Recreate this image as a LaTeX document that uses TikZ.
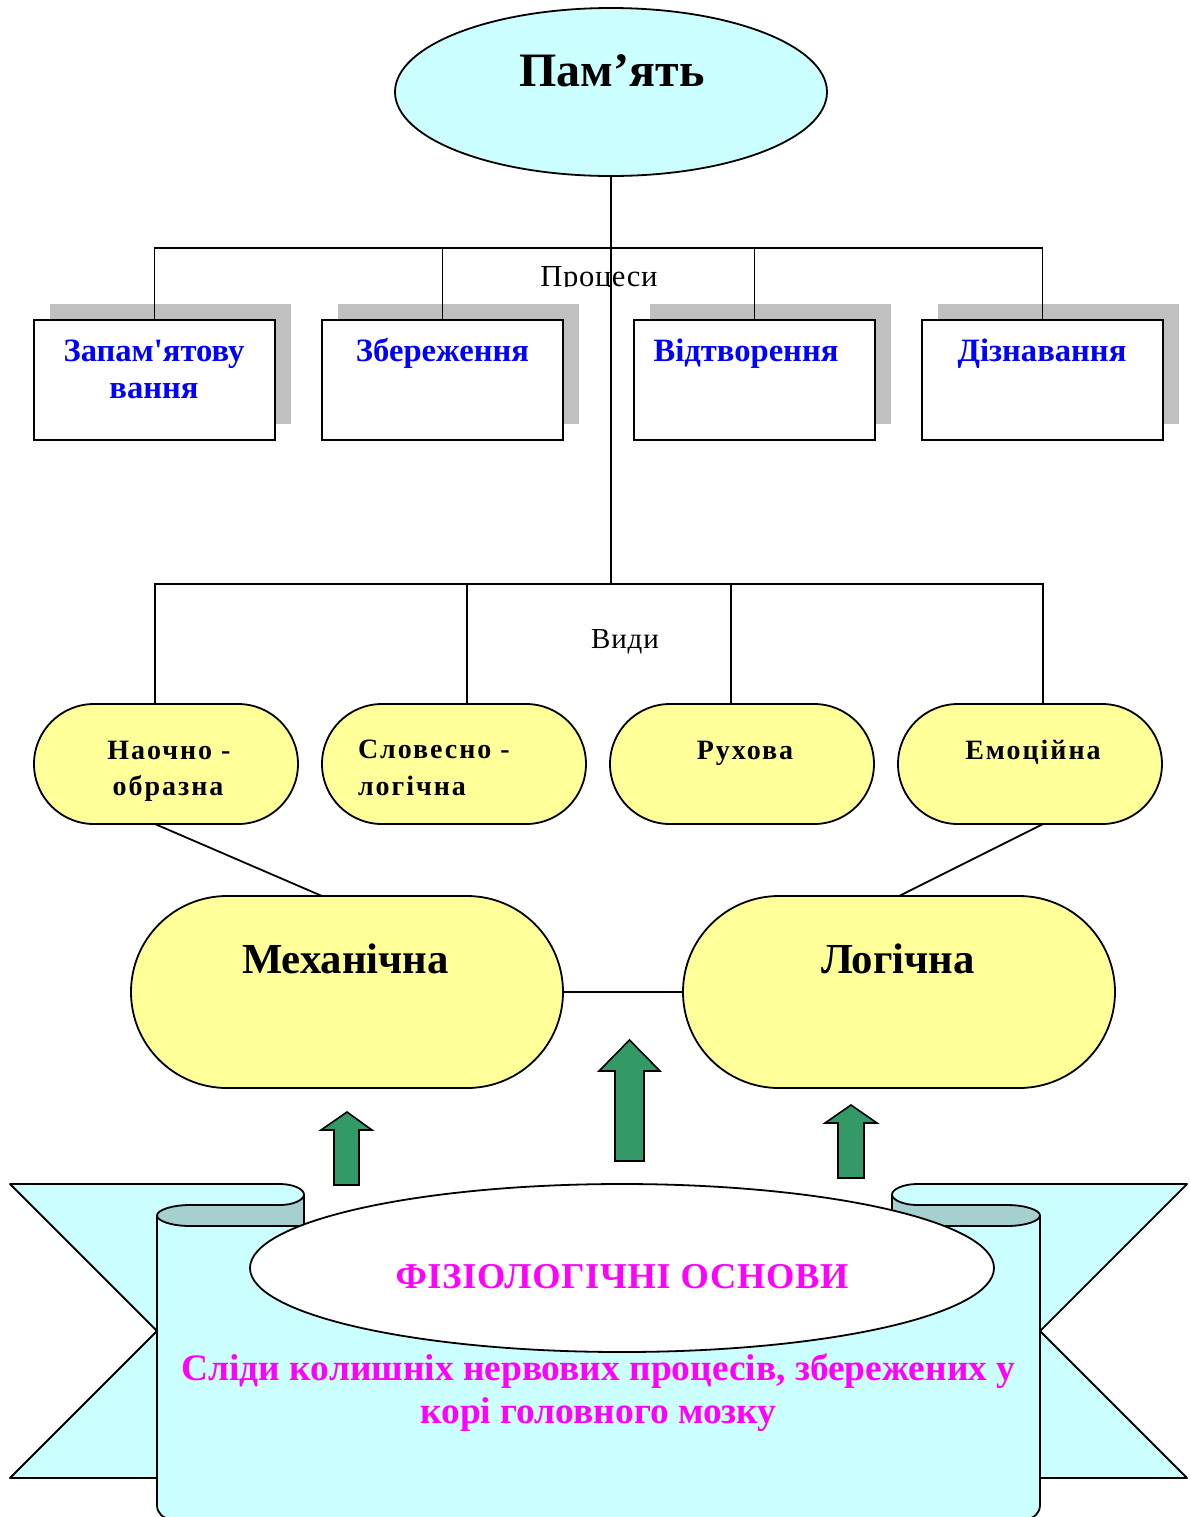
\documentclass[tikz,border=0pt]{standalone}
\usepackage{fontspec}
\setmainfont{Liberation Serif}[Ligatures=TeXOff]
\usetikzlibrary{shapes.geometric,shadows,calc}
\definecolor{lcyan}{HTML}{CCFFFF}
\definecolor{lyellow}{HTML}{FFFF99}
\definecolor{dgreen}{HTML}{339966}
\definecolor{shadowgray}{HTML}{C0C0C0}
\definecolor{foldcyan}{HTML}{A6CFCF}
\definecolor{magentaT}{HTML}{FF00FF}
\definecolor{blueT}{HTML}{0000FF}
\newcommand\fsz[1]{\fontsize{#1pt}{#1pt}\selectfont}
\begin{document}
\begin{tikzpicture}[x=0.5pt,y=-0.5pt,line width=0.9pt,
  every node/.style={inner sep=0pt,outer sep=0pt},
  procbox/.style={draw,fill=white,minimum width=120.5pt,minimum height=60pt,
    general shadow={fill=shadowgray,shadow xshift=8pt,shadow yshift=8pt}},
  kindbox/.style={draw,fill=lyellow,minimum width=132pt,minimum height=60pt,rounded corners=30pt},
  bigbox/.style={draw,fill=lyellow,minimum width=216pt,minimum height=96pt,rounded corners=48pt},
  proctxt/.style={anchor=base,font=\fsz{16.3}\bfseries,text=blueT},
  kindtxt/.style={anchor=base,font=\fsz{14}\bfseries\addfontfeatures{LetterSpace=7}},
  bigtxt/.style={anchor=base,font=\fsz{21.4}\bfseries},
  magtxt/.style={anchor=base,text=magentaT},
  garrow/.style={draw,fill=dgreen,line width=0.8pt,line join=miter},
  ribbon/.style={draw,fill=lcyan,line join=round},
  fold/.style={draw,fill=foldcyan,line join=round}]
\useasboundingbox (0,0) rectangle (1190,1517);
\clip (0,0) rectangle (1190,1517);

% top ellipse
\node[ellipse,draw,fill=lcyan,minimum width=216pt,minimum height=84pt] (mem) at (611,92) {};
\node[anchor=base,font=\fsz{24}\bfseries] (tmem) at (612,86.7) {Пам’ять};

% process boxes
\node[procbox] (b1) at (154.5,380) {};
\node[procbox] (b2) at (442.5,380) {};
\node[procbox] (b3) at (754.5,380) {};
\node[procbox] (b4) at (1042.5,380) {};
\node[proctxt] (tb1a) at (154,361) {Запам'ятову};
\node[proctxt] (tb1b) at (154,398) {вання};
\node[proctxt] (tb2) at (442.5,361) {Збереження};
\node[proctxt] (tb3) at (746,361) {Відтворення};
\node[proctxt] (tb4) at (1042,361) {Дізнавання};

\begin{scope}
\clip (480,250) rectangle (720,286);
\node[anchor=base,font=\fsz{15.3}\addfontfeatures{LetterSpace=2}] (tproc) at (599,286) {Процеси};
\end{scope}

% kinds
\node[kindbox] (y1) at (166,764) {};
\node[kindbox] (y2) at (454,764) {};
\node[kindbox] (y3) at (742,764) {};
\node[kindbox] (y4) at (1030,764) {};
\node[kindtxt] (ty1a) at (169,759.3) {Наочно -};
\node[kindtxt] (ty1b) at (168,795) {образна};
\node[kindtxt,anchor=base west] (ty2a) at (358,758.5) {Словесно -};
\node[kindtxt,anchor=base west] (ty2b) at (358,795) {логічна};
\node[kindtxt] (ty3) at (745,759) {Рухова};
\node[kindtxt] (ty4) at (1033,759) {Емоційна};
\node[anchor=base,font=\fsz{14.5}\addfontfeatures{LetterSpace=3}] (tvydy) at (625,648.3) {Види};

% big kinds
\node[bigbox] (mech) at (347,992) {};
\node[bigbox] (logc) at (899,992) {};
\node[bigtxt] (tmech) at (345.5,973.3) {Механічна};
\node[bigtxt] (tlog) at (898,973.3) {Логічна};

% tree connectors
\coordinate (pbar) at (611,248);
\coordinate (vj) at (611,584);
\coordinate (v1) at (155,584);
\coordinate (v2) at (467,584);
\coordinate (v3) at (731,584);
\coordinate (v4) at (1043,584);
\draw (mem.south) -- (vj);
\draw (b1.north) -- (b1.north |- pbar) -- (b4.north |- pbar) -- (b4.north);
\draw (b2.north) -- (b2.north |- pbar);
\draw (b3.north) -- (b3.north |- pbar);
\draw (v1 |- y1.north) -- (v1) -- (v4) -- (v4 |- y4.north);
\draw (v2) -- (v2 |- y2.north);
\draw (v3) -- (v3 |- y3.north);
\draw (v1 |- y1.south) -- ($(mech.north)+(-25,0)$);
\draw (v4 |- y4.south) -- (logc.north);
\draw (mech.east) -- (logc.west);

% green arrows
\draw[garrow] (334,1185) -- (334,1130) -- (321,1130) -- (347,1112) -- (372,1130) -- (359,1130) -- (359,1185) -- cycle;
\draw[garrow] (615,1161) -- (615,1071) -- (599,1071) -- (629.5,1040) -- (660,1071) -- (644,1071) -- (644,1161) -- cycle;
\draw[garrow] (838,1178) -- (838,1123) -- (825,1123) -- (851,1105) -- (877,1123) -- (864,1123) -- (864,1178) -- cycle;

% ribbon tails
\draw[ribbon] (10,1184) -- (280,1184) .. controls (293,1184) and (304,1189) .. (304,1194.5)
  -- (304,1226) -- (157,1226) -- (157,1478) -- (10,1478) -- (157,1331) -- cycle;
\draw[ribbon] (1187,1184) -- (917,1184) .. controls (904,1184) and (892,1189) .. (892,1194.5)
  -- (892,1226) -- (1040,1226) -- (1040,1478) -- (1187,1478) -- (1040,1331) -- cycle;
% central panel
\fill[lcyan] (157,1215.5) -- (157,1505) .. controls (157,1513) and (163,1519) .. (172,1519)
  -- (1025,1519) .. controls (1034,1519) and (1040,1513) .. (1040,1505) -- (1040,1215.5)
  -- (1007,1226) -- (190,1226) -- cycle;
\draw[line join=round] (157,1215.5) -- (157,1505) .. controls (157,1513) and (163,1519) .. (172,1519)
  -- (1025,1519) .. controls (1034,1519) and (1040,1513) .. (1040,1505) -- (1040,1215.5);
% folds
\draw[fold] (190,1205) -- (280,1205) .. controls (293,1205) and (304,1200) .. (304,1194.5)
  -- (304,1226) -- (190,1226) .. controls (172,1226) and (157,1221) .. (157,1215.5)
  .. controls (157,1210) and (172,1205) .. (190,1205) -- cycle;
\draw[fold] (1007,1205) -- (917,1205) .. controls (904,1205) and (892,1200) .. (892,1194.5)
  -- (892,1226) -- (1007,1226) .. controls (1025,1226) and (1040,1221) .. (1040,1215.5)
  .. controls (1040,1210) and (1025,1205) .. (1007,1205) -- cycle;

% physiological ellipse
\node[ellipse,draw,fill=white,minimum width=372pt,minimum height=84pt] (phys) at (622,1268) {};
\node[magtxt,font=\fsz{18.2}\bfseries\addfontfeatures{LetterSpace=2}] (tfiz) at (622,1288.3) {ФІЗІОЛОГІЧНІ ОСНОВИ};
\node[magtxt,font=\fsz{18.7}\bfseries] (tsl1) at (598.5,1380) {Сліди колишніх нервових процесів, збережених у};
\node[magtxt,font=\fsz{18.7}\bfseries] (tsl2) at (598.5,1423.3) {корі головного мозку};
\end{tikzpicture}
\end{document}
